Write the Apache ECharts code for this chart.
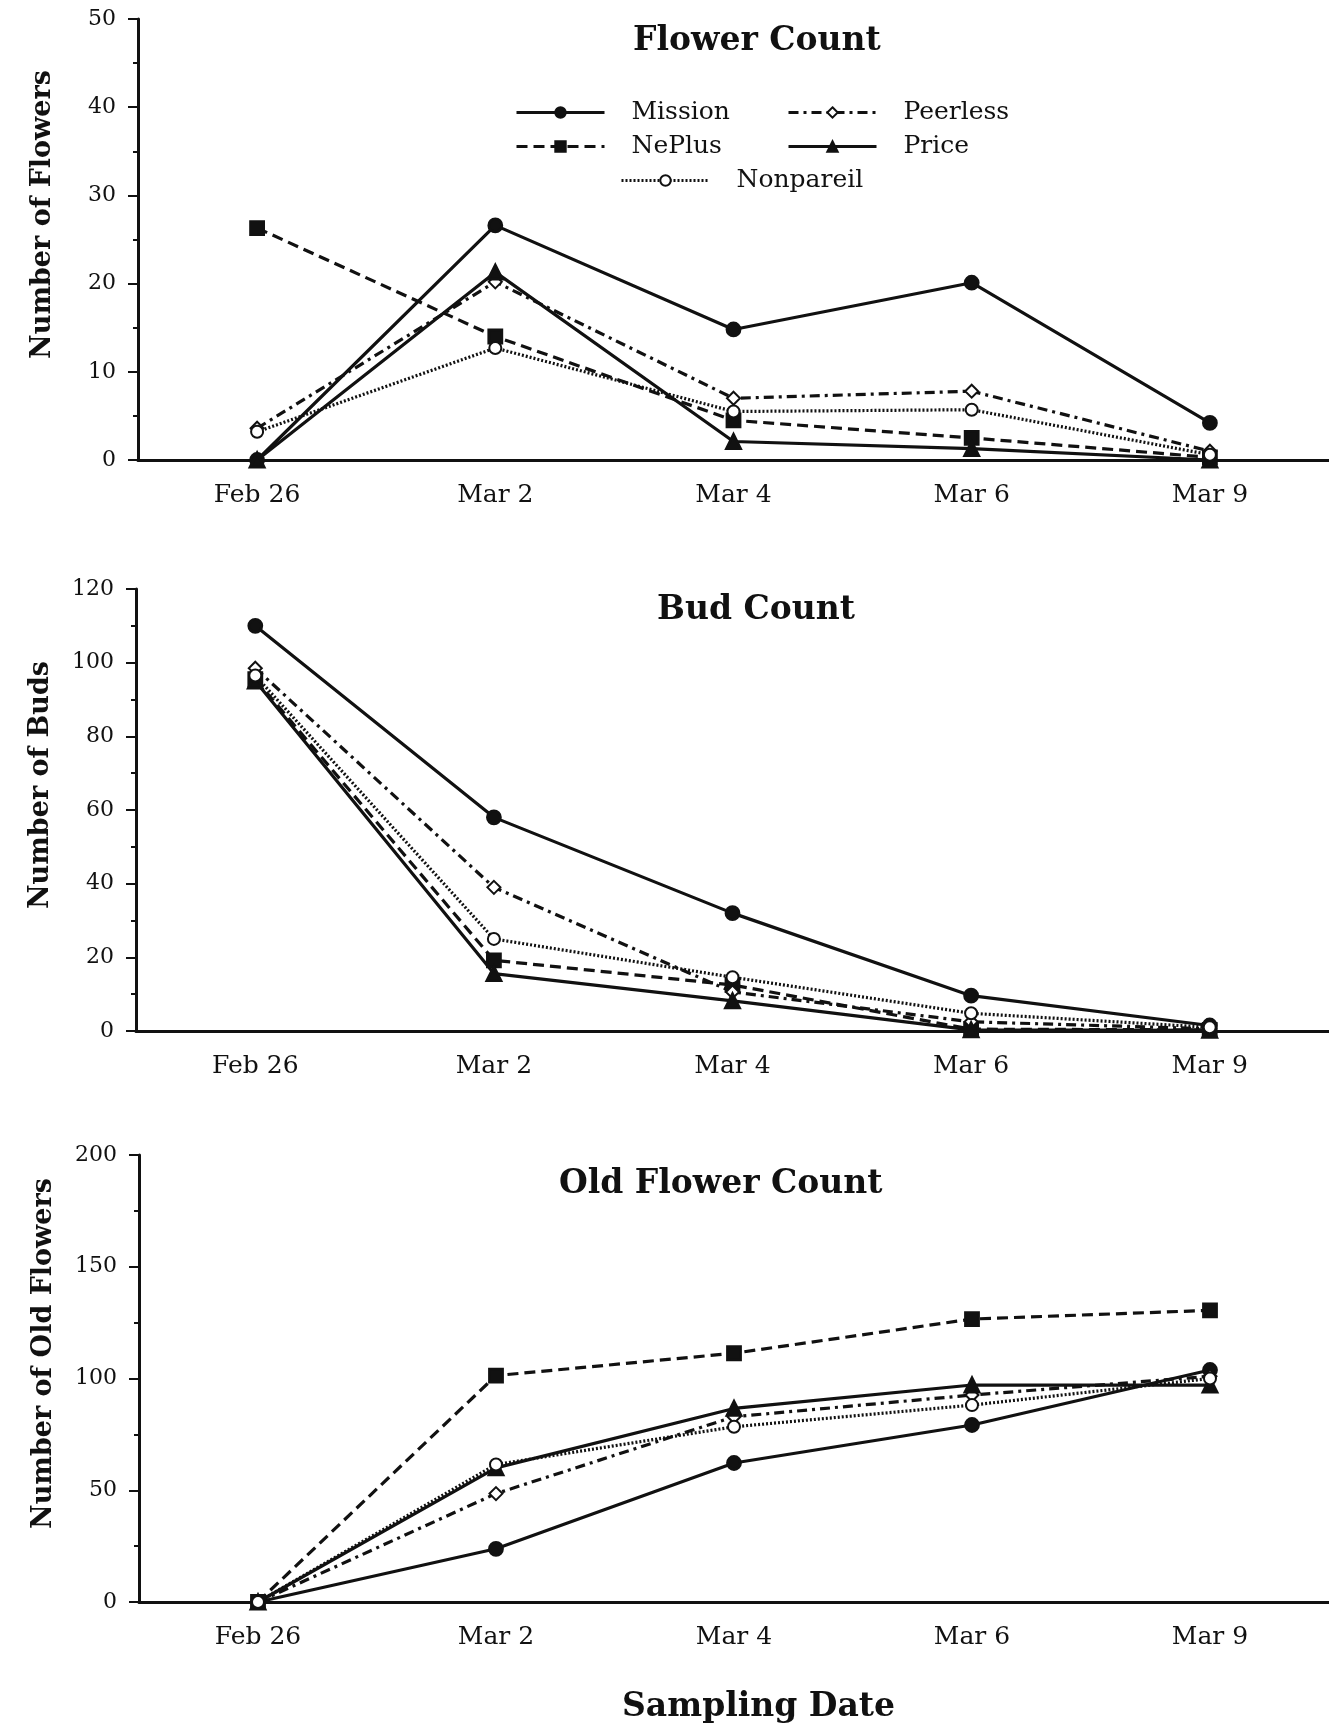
<!DOCTYPE html>
<html>
<head>
<meta charset="utf-8">
<script src="https://cdn.jsdelivr.net/npm/echarts@6/dist/echarts.min.js"></script>
<style>
  html, body { margin: 0; padding: 0; background: #fff; }
  #main { width: 1329px; height: 1726px; }
</style>
</head>
<body>
<div id="main"></div>
<script>
// categories
var dates = ['Feb 26', 'Mar 2', 'Mar 4', 'Mar 6', 'Mar 9'];
var cultivars = ['Mission', 'NePlus', 'Peerless', 'Price', 'Nonpareil'];

// Flower Count
var flowerMission   = [0, 26.6, 14.8, 20.1, 4.2];
var flowerNePlus    = [26.3, 14.0, 4.5, 2.5, 0.3];
var flowerPeerless  = [3.6, 20.2, 7.0, 7.8, 1.0];
var flowerPrice     = [0, 21.3, 2.1, 1.3, 0];
var flowerNonpareil = [3.2, 12.7, 5.5, 5.7, 0.6];

// Bud Count
var budMission   = [110, 58, 32, 9.6, 1.5];
var budNePlus    = [95.5, 19.2, 12.5, 0.5, 0.3];
var budPeerless  = [98.5, 39, 10.6, 2.5, 0.6];
var budPrice     = [95, 15.6, 8.2, 0.3, 0.2];
var budNonpareil = [96.5, 25, 14.6, 4.8, 1.0];

// Old Flower Count
var oldMission   = [0, 23.8, 62.2, 79.2, 103.8];
var oldNePlus    = [0, 101.3, 111.3, 126.6, 130.5];
var oldPeerless  = [0, 48.5, 82.9, 92.6, 101];
var oldPrice     = [0, 60, 86.6, 97.1, 97];
var oldNonpareil = [0, 61.5, 78.4, 88.1, 100];

// y ticks
var flowerTicks = { min: 0, max: 50, interval: 10 };
var budTicks    = { min: 0, max: 120, interval: 20 };
var oldTicks    = { min: 0, max: 200, interval: 50 };

var panelData = [
  [flowerMission, flowerNePlus, flowerPeerless, flowerPrice, flowerNonpareil],
  [budMission, budNePlus, budPeerless, budPrice, budNonpareil],
  [oldMission, oldNePlus, oldPeerless, oldPrice, oldNonpareil]
];

var FONT = 'DejaVu Serif';
var INK = '#111';

// 线型与标记
var look = {
  Mission:   { symbol: 'circle',       size: 13, type: 'solid' },
  NePlus:    { symbol: 'rect',         size: 13, type: [11, 6] },
  Peerless:  { symbol: 'emptyDiamond', size: 13, type: [10, 5, 3, 5] },
  Price:     { symbol: 'triangle',     size: 14, type: 'solid' },
  Nonpareil: { symbol: 'emptyCircle',  size: 12, type: [2, 2] }
};

var grids = [
  { left: 138, top: 19, width: 1198, height: 441 },
  { left: 136, top: 589, width: 1198, height: 442 },
  { left: 139, top: 1155, width: 1198, height: 447 }
];
var yNames = ['Number of Flowers', 'Number of Buds', 'Number of Old Flowers'];
var yTicks = [flowerTicks, budTicks, oldTicks];

var xAxes = [], yAxes = [], series = [];
for (var g = 0; g < 3; g++) {
  xAxes.push({
    type: 'category', gridIndex: g, data: dates, boundaryGap: true,
    axisLine: { lineStyle: { color: INK, width: 3 } },
    axisTick: { alignWithLabel: true, length: 11, lineStyle: { color: INK, width: 2 } },
    axisLabel: { color: INK, fontFamily: FONT, fontSize: 25, margin: 23 },
    splitLine: { show: false }
  });
  yAxes.push({
    type: 'value', gridIndex: g,
    min: yTicks[g].min, max: yTicks[g].max, interval: yTicks[g].interval,
    name: yNames[g], nameLocation: 'middle', nameGap: 82,
    nameTextStyle: { color: INK, fontFamily: FONT, fontWeight: 'bold', fontSize: 27, padding: [0, 0, 0, 50] },
    axisLine: { show: true, lineStyle: { color: INK, width: 3 } },
    axisTick: { show: true, length: 10, lineStyle: { color: INK, width: 2 } },
    minorTick: { show: true, splitNumber: 2, length: 5, lineStyle: { color: INK, width: 2 } },
    axisLabel: { color: INK, fontFamily: FONT, fontSize: 22, margin: 22 },
    splitLine: { show: false }
  });
  for (var s = 0; s < cultivars.length; s++) {
    var nm = cultivars[s];
    series.push({
      name: nm, type: 'line', xAxisIndex: g, yAxisIndex: g,
      data: panelData[g][s],
      symbol: look[nm].symbol, symbolSize: look[nm].size, showSymbol: true,
      lineStyle: { color: INK, width: 3.2, type: look[nm].type },
      itemStyle: { color: INK, borderColor: INK, borderWidth: 2.8 },
      emphasis: { disabled: true },
      animation: false
    });
  }
}

var legendBase = {
  orient: 'vertical', itemWidth: 88, itemHeight: 13, itemGap: 9,
  padding: 0, selectedMode: false,
  lineStyle: { width: 3 },
  textStyle: { color: INK, fontFamily: FONT, fontSize: 25, padding: [0, 0, 0, 22] }
};

var myChart = echarts.init(document.getElementById('main'));
var option = {
  backgroundColor: '#fff',
  animation: false,
  title: [
    { text: 'Flower Count', left: 633, top: 25, padding: 0,
      textStyle: { color: INK, fontFamily: FONT, fontWeight: 'bold', fontSize: 33 } },
    { text: 'Bud Count', left: 657, top: 594, padding: 0,
      textStyle: { color: INK, fontFamily: FONT, fontWeight: 'bold', fontSize: 33 } },
    { text: 'Old Flower Count', left: 559, top: 1168, padding: 0,
      textStyle: { color: INK, fontFamily: FONT, fontWeight: 'bold', fontSize: 33 } },
    { text: 'Sampling Date', left: 622, top: 1691, padding: 0,
      textStyle: { color: INK, fontFamily: FONT, fontWeight: 'bold', fontSize: 33 } }
  ],
  legend: [
    Object.assign({}, legendBase, { left: 515, top: 100, data: ['Mission', 'NePlus'] }),
    Object.assign({}, legendBase, { left: 787, top: 100, data: ['Peerless', 'Price'] }),
    Object.assign({}, legendBase, { left: 620, top: 168, data: ['Nonpareil'] })
  ],
  grid: grids,
  xAxis: xAxes,
  yAxis: yAxes,
  series: series
};
myChart.setOption(option);
</script>
</body>
</html>
